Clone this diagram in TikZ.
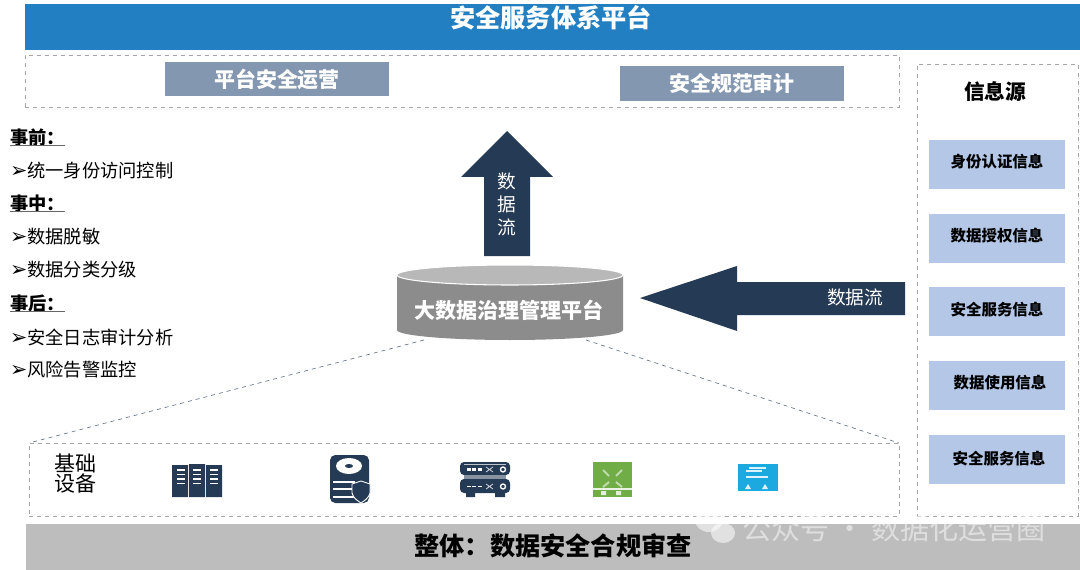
\documentclass[tikz,border=0pt]{standalone}
\usepackage{fontspec}
\setmainfont{Noto Sans CJK SC}
\newfontfamily\dejavu{DejaVu Sans}
\usetikzlibrary{arrows.meta}
\definecolor{topbar}{HTML}{2280C2}
\definecolor{slate}{HTML}{8497B0}
\definecolor{navy}{HTML}{253A54}
\definecolor{infoblue}{HTML}{B4C7E7}
\definecolor{framegray}{HTML}{A6A6A6}
\definecolor{barshade}{HTML}{BDBDBD}
\definecolor{cylbody}{HTML}{8C8C8C}
\definecolor{cyltop}{HTML}{B8B8B8}
\definecolor{routergreen}{HTML}{70AD47}
\definecolor{switchblue}{HTML}{1BA9E0}
\newcommand{\pointer}{{\dejavu\bfseries\fontsize{15.5pt}{16pt}\selectfont ➢}}

\begin{document}
\begin{tikzpicture}[
  x=0.75pt, y=-0.75pt,
  every node/.style={inner sep=0pt, outer sep=0pt},
  barbox/.style={minimum width=791.25pt, minimum height=34.5pt},
  headtxt/.style={font=\fontsize{18.9pt}{22pt}\selectfont\bfseries},
  framebox/.style={draw=framegray, dashed, line width=0.5pt},
  opbox/.style={
    fill=slate, minimum width=168pt, minimum height=26pt,
    text=white, font=\fontsize{15.7pt}{18pt}\selectfont\bfseries,
  },
  infobox/.style={fill=infoblue, minimum width=102pt, minimum height=36.75pt},
  infotxt/.style={font=\fontsize{11.6pt}{14pt}\selectfont\bfseries},
  sidehead/.style={anchor=west, font=\fontsize{13.7pt}{16pt}\selectfont\bfseries},
  sideitem/.style={anchor=west, font=\fontsize{13.7pt}{16pt}\selectfont},
  flowtxt/.style={text=white, font=\fontsize{14pt}{17pt}\selectfont},
  underbar/.style={line width=0.8pt, draw=black!60},
  guide/.style={draw=navy!70, dashed, line width=0.5pt},
  iconfill/.style={fill=navy},
  iconline/.style={draw=white, line width=1pt},
]
  \useasboundingbox (0, 0) rectangle (1080, 570);

  % top and bottom bars
  \node[barbox, fill=topbar] (platbar) at (552.5, 27) {};
  \node[headtxt, text=white] (plattitle) at (551, 18) {安全服务体系平台};
  \node[barbox, fill=barshade] (auditbar) at (553, 547) {};
  \node[headtxt] (audittitle) at (553, 546) {整体：数据安全合规审查};

  % operations frame
  \node[framebox, minimum width=655.5pt, minimum height=39pt] (opsframe) at (462, 81) {};
  \node[opbox] (opsrun)   at (277, 79) {平台安全运营};
  \node[opbox] (opsaudit) at (732, 83.5) {安全规范审计};

  % left column
  \node[sidehead] (pre)    at (10, 138) {事前：};
  \draw[underbar] (pre.south west) ++(0, 1pt) -- ++(41pt, 0);
  \node[sideitem] (preone) at (10, 170.5) {\pointer 统一身份访问控制};
  \node[sidehead] (mid)    at (10, 204) {事中：};
  \draw[underbar] (mid.south west) ++(0, 1pt) -- ++(41pt, 0);
  \node[sideitem] (midone) at (10, 237) {\pointer 数据脱敏};
  \node[sideitem] (midtwo) at (10, 270) {\pointer 数据分类分级};
  \node[sidehead] (post)   at (10, 304) {事后：};
  \draw[underbar] (post.south west) ++(0, 1pt) -- ++(41pt, 0);
  \node[sideitem] (postone) at (10, 337) {\pointer 安全日志审计分析};
  \node[sideitem] (posttwo) at (10, 370) {\pointer 风险告警监控};

  % info sources
  \node[framebox, minimum width=120.75pt, minimum height=339pt] (infoframe) at (997.5, 290) {};
  \node[font=\fontsize{15.5pt}{18pt}\selectfont\bfseries] (infohead) at (995, 92) {信息源};
  \node[infobox] (infoa) at (997, 164.5) {};
  \node[infobox] (infob) at (997, 238.5) {};
  \node[infobox] (infoc) at (997, 311.5) {};
  \node[infobox] (infod) at (997, 385.5) {};
  \node[infobox] (infoe) at (997, 459.5) {};
  \node[infotxt] (infoat) at (997, 161.5) {身份认证信息};
  \node[infotxt] (infobt) at (997, 235.5) {数据授权信息};
  \node[infotxt] (infoct) at (997, 309.5) {安全服务信息};
  \node[infotxt] (infodt) at (1000, 382.5) {数据使用信息};
  \node[infotxt] (infoet) at (999, 459) {安全服务信息};

  % flows and platform
  \fill[navy] (507, 131) -- (553, 177) -- (530, 177) -- (530, 256) -- (484, 256) -- (484, 177) -- (461, 177) -- cycle;
  \node[flowtxt] (flowat) at (507, 181) {数};
  \node[flowtxt] (flowbt) at (507, 204) {据};
  \node[flowtxt] (flowct) at (507, 227) {流};
  \fill[navy] (640, 298) -- (737, 266) -- (737, 282) -- (905, 282) -- (905, 315) -- (737, 315) -- (737, 331) -- cycle;
  \node[flowtxt] (flowdt) at (855, 297) {数据流};
  \fill[cylbody] (397, 275) -- (397, 330) arc[start angle=180, end angle=0, x radius=113, y radius=10] -- (623, 275) -- cycle;
  \path[fill=cyltop, draw=white, line width=0.8pt] (510, 275) ellipse (113 and 10);
  \node[text=white, font=\fontsize{15.8pt}{18pt}\selectfont\bfseries] (bigdata) at (509, 310) {大数据治理管理平台};

  % device frame
  \node[framebox, minimum width=652.5pt, minimum height=54.75pt] (devframe) at (464, 479.5) {};
  \coordinate (cylleft)  at (424, 340);
  \coordinate (cylright) at (586, 340);
  \draw[guide] (cylleft)  -- (devframe.north west);
  \draw[guide] (cylright) -- (devframe.north east);
  \node[align=center, font=\fontsize{15.75pt}{15pt}\selectfont] (devhead) at (75.5, 474) {基础\\设备};

  % rack
  \fill[iconfill] (172, 465) rectangle (188, 497) (189, 464) rectangle (205, 497) (206, 465) rectangle (222, 497);
  \draw[iconline] (177, 470) -- (185, 470) (177, 474.5) -- (185, 474.5) (177, 479) -- (185, 479) (177, 483.5) -- (185, 483.5)
                  (193, 470) -- (201, 470) (193, 474.5) -- (201, 474.5) (193, 479) -- (201, 479) (193, 483.5) -- (201, 483.5)
                  (210, 470) -- (218, 470) (210, 474.5) -- (218, 474.5) (210, 479) -- (218, 479) (210, 483.5) -- (218, 483.5);

  % secure disk
  \fill[iconfill, rounded corners=4pt] (330, 455) rectangle (369, 503);
  \fill[white] (349, 466) ellipse (13 and 8);
  \fill[iconfill] (349, 466) ellipse (4 and 2);
  \draw[white, line width=1.9pt] (333, 482) -- (355, 482) (333, 489) -- (352, 489) (333, 497) -- (354, 497);
  \fill[iconfill, draw=white, line width=0.7pt] (361, 481) -- (370, 484) -- (370, 493) .. controls (369, 498) and (364, 501) .. (361, 503)
    .. controls (358, 501) and (353, 498) .. (352, 493) -- (352, 484) -- cycle;

  % stacked servers
  \fill[iconfill, rounded corners=3pt] (460, 462) rectangle (510, 475) (460, 479) rectangle (510, 493);
  \fill[iconfill] (466, 493) rectangle (475, 497) (495, 493) rectangle (505, 497);
  \fill[navy!55] (464, 475) rectangle (506, 479);
  \draw[white!70!navy, line width=0.6pt] (464, 464) -- (506, 464);
  \draw[white, line width=2pt, dash pattern=on 3pt off 1pt] (467, 469.5) -- (482, 469.5);
  \draw[white, line width=1.2pt, dash pattern=on 3pt off 1pt] (467, 486.5) -- (482, 486.5);
  \draw[white!80!navy, line width=0.6pt] (486, 467) -- (493, 472) (486, 472) -- (493, 467) (486, 484) -- (493, 489) (486, 489) -- (493, 484);
  \draw[white, line width=1pt] (503, 469.5) circle (2.5) (503, 486.5) circle (2.5);

  % router
  \fill[routergreen] (593, 462) rectangle (632, 497);
  \draw[white!55!routergreen, line width=1.5pt] (603, 470) -- (609, 476) (622, 470) -- (616, 476) (603, 487) -- (609, 482) (622, 487) -- (616, 482);
  \draw[white!85!routergreen, line width=0.9pt] (593, 489) -- (632, 489);
  \fill[white!80!routergreen] (601, 491) rectangle (606, 495) (616, 491) rectangle (621, 495);

  % switch
  \fill[switchblue] (738, 464) rectangle (778, 491);
  \draw[white!85!switchblue, line width=0.9pt] (749, 468) -- (766, 468) (746, 471) -- (762, 471) (746, 477) -- (768, 477);
  \fill[white!85!switchblue] (745, 489) -- (748, 484) -- (751, 489) -- cycle (762, 489) -- (765, 484) -- (768, 489) -- cycle;

  % watermark
  \fill[white, opacity=0.55] (709, 520) ellipse (14 and 12);
  \fill[white, opacity=0.55] (723, 533) ellipse (12 and 10);
  \node[text=white, opacity=0.5, anchor=west, font=\fontsize{21.8pt}{24pt}\selectfont] (mark) at (742, 528) {公众号 · 数据化运营圈};
\end{tikzpicture}
\end{document}
